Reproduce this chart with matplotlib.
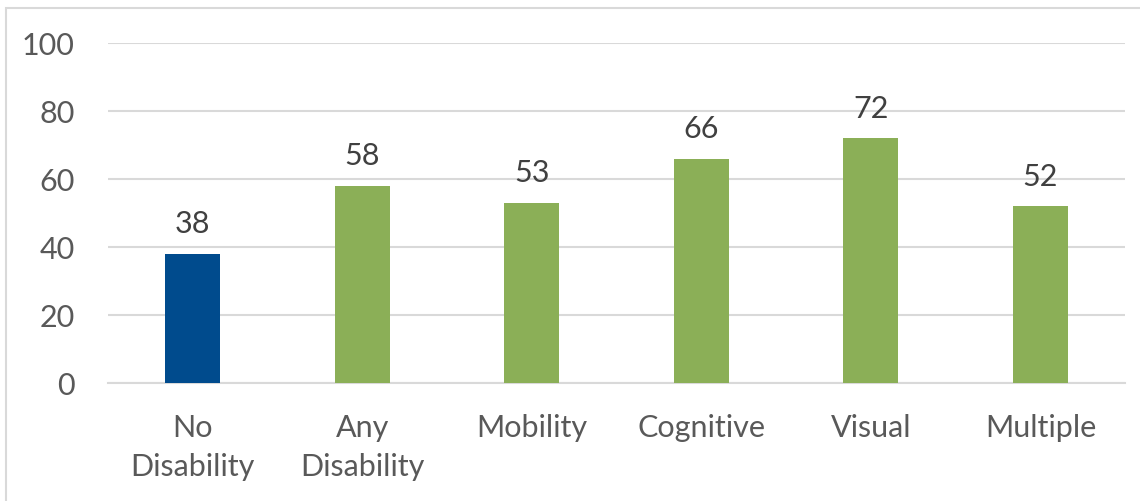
import matplotlib.pyplot as plt
from matplotlib.patches import Rectangle

plt.rcParams['font.family'] = ['Lato', 'DejaVu Sans']

categories = ['No\nDisability', 'Any\nDisability', 'Mobility', 'Cognitive', 'Visual', 'Multiple']
values = [38, 58, 53, 66, 72, 52]
bar_colors = ['#004B8D', '#8BAF57', '#8BAF57', '#8BAF57', '#8BAF57', '#8BAF57']
yticks = [0, 20, 40, 60, 80, 100]

text_color = '#595959'
grid_color = '#D9D9D9'

fig = plt.figure(figsize=(11.4, 5.01), dpi=100)
ax = fig.add_axes([0.0947, 0.2355, 0.8923, 0.6785])

# outer chart border
fig.patches.append(Rectangle((6 / 1140, -0.01), 1.0, (501 - 8) / 501 + 0.01,
                             transform=fig.transFigure, fill=False,
                             edgecolor=grid_color, linewidth=1.5))

x = range(len(categories))
ax.bar(x, values, width=0.325, color=bar_colors, zorder=3)

for i, v in enumerate(values):
    ax.text(i, v + 4.6, f"{v}", ha='center', va='bottom', fontsize=22, color='#404040')

ax.set_ylim(0, 100)
ax.set_xlim(-0.5, len(categories) - 0.5)
ax.set_yticks(yticks)
ax.set_xticks(list(x))
ax.set_xticklabels(categories, fontsize=22, color=text_color, linespacing=1.5)
ax.tick_params(axis='y', labelsize=22, labelcolor=text_color, length=0, pad=24)
ax.tick_params(axis='x', length=0, pad=22)

ax.yaxis.grid(True, color=grid_color, linewidth=1.5, zorder=0)
for s in ['top', 'right', 'left']:
    ax.spines[s].set_visible(False)
ax.spines['bottom'].set_color(grid_color)
ax.spines['bottom'].set_linewidth(1.5)

fig.savefig('out.png', dpi=100)
